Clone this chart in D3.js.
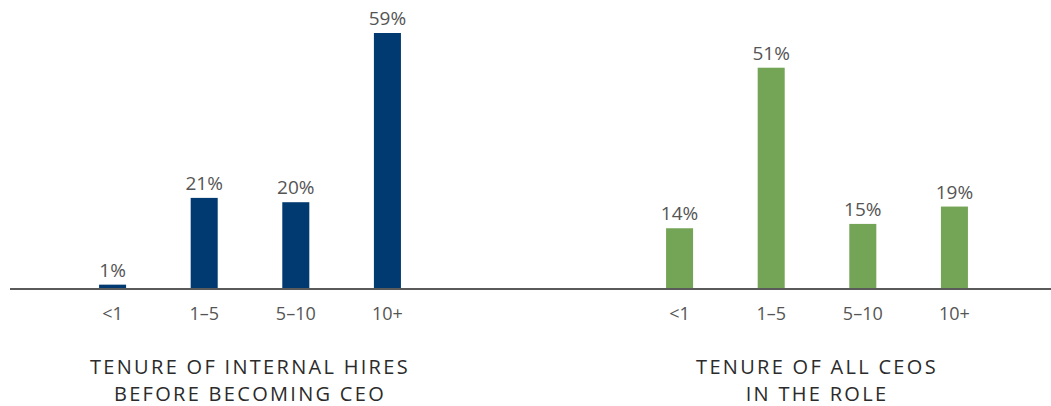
<!DOCTYPE html>
<html>
<head>
<meta charset="utf-8">
<script src="https://cdn.jsdelivr.net/npm/d3@7"></script>
<style>
  body { margin: 0; background: #fff; }
  svg text { font-family: "Open Sans", Lato, sans-serif; }
</style>
</head>
<body>
<div id="area"></div>
<script>
// chart data
var categories = ["<1", "1\u20135", "5\u201310", "10+"];
var internalHires = [1, 21, 20, 59];
var allCeos = [14, 51, 15, 19];
var titleInternal = ["TENURE OF INTERNAL HIRES", "BEFORE BECOMING CEO"];
var titleAll = ["TENURE OF ALL CEOS", "IN THE ROLE"];

var width = 1051, height = 406;
var baseY = 289;

var svg = d3.select('#area').append('svg')
            .attr('width', width)
            .attr('height', height);

var y = d3.scaleLinear()
          .domain([0, 59])
          .range([baseY, 33]);

function drawGroup(values, color, x0, x1, title) {
    var x = d3.scaleBand()
              .domain(categories)
              .range([x0, x1])
              .paddingInner(0.705)
              .paddingOuter(0.35);

    var g = svg.append('g');

    g.selectAll('rect')
     .data(values)
     .enter().append('rect')
     .attr('x', function(d, i) { return x(categories[i]); })
     .attr('y', function(d) { return y(d); })
     .attr('width', x.bandwidth())
     .attr('height', function(d) { return baseY - y(d); })
     .attr('fill', color);

    g.selectAll('.val')
     .data(values)
     .enter().append('text')
     .attr('class', 'val')
     .attr('x', function(d, i) { return x(categories[i]) + x.bandwidth() / 2; })
     .attr('y', function(d) { return y(d) - 8; })
     .attr('text-anchor', 'middle')
     .attr('font-size', 19)
     .attr('fill', '#555')
     .text(function(d) { return d + '%'; });

    // axis without domain line / ticks, just labels
    var axis = g.append('g')
                .attr('transform', 'translate(0,' + baseY + ')')
                .call(d3.axisBottom(x).tickSize(0).tickPadding(18));
    axis.select('.domain').remove();
    axis.selectAll('text')
        .attr('font-size', 18)
        .attr('fill', '#555')
        .style('font-family', '"Open Sans", Lato, sans-serif');

    var cx = (x0 + x1) / 2;
    g.selectAll('.title')
     .data(title)
     .enter().append('text')
     .attr('class', 'title')
     .attr('x', cx)
     .attr('y', function(d, i) { return 374 + i * 27; })
     .attr('text-anchor', 'middle')
     .attr('font-size', 20)
     .attr('letter-spacing', '2.3px')
     .attr('fill', '#2b2b2b')
     .text(function(d) { return d; });
}

drawGroup(internalHires, '#003a70', 67, 433, titleInternal);
drawGroup(allCeos, '#74a557', 634, 1000, titleAll);

// baseline
svg.append('line')
   .attr('x1', 10).attr('x2', 1051)
   .attr('y1', baseY).attr('y2', baseY)
   .attr('stroke', '#5a5a5a')
   .attr('stroke-width', 2);
</script>
</body>
</html>
